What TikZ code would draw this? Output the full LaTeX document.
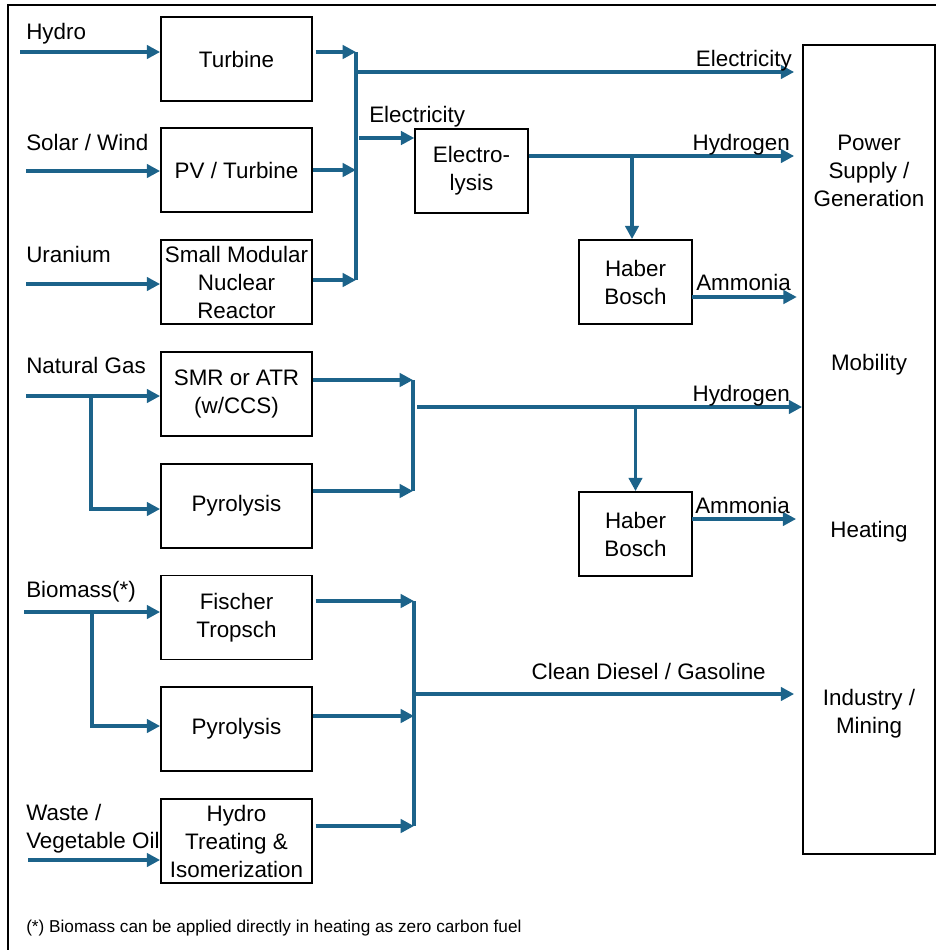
\documentclass[tikz,border=0pt]{standalone}
\usepackage{fontspec}
\setmainfont{Liberation Sans}
\usetikzlibrary{arrows.meta,positioning}
\definecolor{flowblue}{RGB}{28,99,138}
\tikzset{
  txt/.style={font=\fontsize{16.8}{21}\selectfont},
  procbox/.style={txt, draw=black, line width=1.3pt, minimum width=113.25pt,
    minimum height=63pt, align=center, inner sep=1pt},
  smallbox/.style={procbox, minimum width=84.5pt},
  lbl/.style={txt, inner sep=0pt, align=left},
  bus/.style={draw=flowblue, line width=2.6pt},
  flow/.style={bus, -{Triangle[length=10pt,width=10pt]}},
}
\begin{document}
\begin{tikzpicture}[x=0.75pt,y=-0.75pt]
\useasboundingbox (0,0) rectangle (936,950);
% frame
\draw[line width=1.6pt] (8,950) -- (8,5) -- (936,5);

% conversion processes
\node[procbox] (turb) at (236.5,59) {Turbine};
\node[procbox] (pv) at (236.5,170) {PV / Turbine};
\node[procbox] (smnr) at (236.5,282) {Small Modular\\Nuclear\\Reactor};
\node[procbox] (smr) at (236.5,394) {SMR or ATR\\(w/CCS)};
\node[procbox] (pyrng) at (236.5,506) {Pyrolysis};
\node[procbox] (ft) at (236.5,617.5) {Fischer\\Tropsch};
\node[procbox] (pyrbio) at (236.5,729) {Pyrolysis};
\node[procbox] (hti) at (236.5,841) {Hydro\\Treating \&\\Isomerization};
\node[smallbox] (elys) at (471.5,171) {Electro-\\lysis};
\node[smallbox] (hbA) at (635.5,282) {Haber\\Bosch};
\node[smallbox] (hbB) at (635.5,534) {Haber\\Bosch};

% end use
\node[draw, line width=1.3pt, minimum width=99pt, minimum height=607pt] (sector) at (869,449.5) {};
\node[lbl, align=center] (power) at (869,171) {Power\\Supply /\\Generation};
\node[lbl] (mobil) at (869,365) {Mobility};
\node[lbl] (heat) at (869,532) {Heating};
\node[lbl, align=center] (indus) at (869,714) {Industry /\\Mining};

% sources
\node[lbl, anchor=base west] (hydroL) at (26,39) {Hydro};
\node[lbl, anchor=base west] (solarL) at (26,150) {Solar / Wind};
\node[lbl, anchor=base west] (uranL) at (26,262) {Uranium};
\node[lbl, anchor=base west] (gasL) at (26,373) {Natural Gas};
\node[lbl, anchor=base west] (bioL) at (26,597) {Biomass(*)};
\node[lbl, anchor=west] (wasteL) at (26,829) {Waste /\\Vegetable Oil};

\coordinate (hydroIn) at (20,52);
\coordinate (solarIn) at (26,171);
\coordinate (uranIn) at (26,284);
\coordinate (gasIn) at (26,396);
\coordinate (gasSplit) at (91,396);
\coordinate (bioIn) at (24,612);
\coordinate (bioSplit) at (92,612);
\coordinate (wasteIn) at (28,860);
\draw[flow] (hydroIn) -- (hydroIn -| turb.west);
\draw[flow] (solarIn) -- (solarIn -| pv.west);
\draw[flow] (uranIn) -- (uranIn -| smnr.west);
\draw[flow] (gasIn) -- (gasIn -| smr.west);
\draw[flow] (gasSplit) |- ([yshift=-2.25pt]pyrng.west);
\draw[flow] (bioIn) -- (bioIn -| ft.west);
\draw[flow] (bioSplit) |- ([yshift=2.25pt]pyrbio.west);
\draw[flow] (wasteIn) -- (wasteIn -| hti.west);

% electricity
\coordinate (elTop) at (356,52);
\coordinate (elBot) at (356,280);
\coordinate (elGrid) at (356,72);
\coordinate (elFeed) at (359,138);
\draw[bus] (elTop) -- (elBot);
\draw[flow] ([xshift=2pt]elTop -| turb.east) -- (elTop);
\draw[flow] (pv.east) -- (pv.east -| elTop);
\draw[flow] (elBot -| smnr.east) -- (elBot);
\draw[flow, shorten >=6pt] (elGrid) -- (elGrid -| sector.west);
\draw[flow] (elFeed) -- (elFeed -| elys.west);
\node[lbl, anchor=base east] (elGridL) at (792,66) {Electricity};
\node[lbl, anchor=base west] (elFeedL) at (369,122) {Electricity};

% hydrogen and ammonia from electrolysis
\coordinate (hyA) at (632,156);
\coordinate (nhA) at (692,297);
\draw[flow, shorten >=6pt] (hyA -| elys.east) -- (hyA -| sector.west);
\draw[flow] (hyA) -- (hyA |- hbA.north);
\draw[flow, shorten >=4pt] (nhA) -- (nhA -| sector.west);
\node[lbl, anchor=base east] (hyAL) at (790,150) {Hydrogen};
\node[lbl, anchor=base west] (nhAL) at (696,290) {Ammonia};

% hydrogen and ammonia from natural gas
\coordinate (gasTop) at (413,380);
\coordinate (gasBot) at (413,491);
\coordinate (hyB) at (417,407);
\coordinate (nhB) at (692,519);
\draw[bus] (gasTop) -- (gasBot);
\draw[flow] (gasTop -| smr.east) -- (gasTop);
\draw[flow] (gasBot -| pyrng.east) -- (gasBot);
\draw[flow] (hyB) -- (hyB -| sector.west);
\draw[flow] (hyB -| hbB.north) -- (hbB.north);
\draw[flow, shorten >=4.5pt] (nhB) -- (nhB -| sector.west);
\node[lbl, anchor=base east] (hyBL) at (790,401) {Hydrogen};
\node[lbl, anchor=base west] (nhBL) at (695,513) {Ammonia};

% liquid fuels
\coordinate (fuelTop) at (414,601);
\coordinate (fuelMid) at (414,716);
\coordinate (fuelBot) at (414,826);
\coordinate (fuelOut) at (414,694);
\draw[bus] (fuelTop) -- (fuelBot);
\draw[flow] ([xshift=2pt]fuelTop -| ft.east) -- (fuelTop);
\draw[flow] (fuelMid -| pyrbio.east) -- (fuelMid);
\draw[flow] ([xshift=2pt]fuelBot -| hti.east) -- (fuelBot);
\draw[flow, shorten >=6pt] (fuelOut) -- (fuelOut -| sector.west);
\node[lbl, anchor=base east] (fuelL) at (766,679) {Clean Diesel / Gasoline};

% note
\node[anchor=base west, inner sep=0pt, font=\fontsize{12.9}{15}\selectfont] (note) at (26,932)
  {(*) Biomass can be applied directly in heating as zero carbon fuel};
\end{tikzpicture}
\end{document}
